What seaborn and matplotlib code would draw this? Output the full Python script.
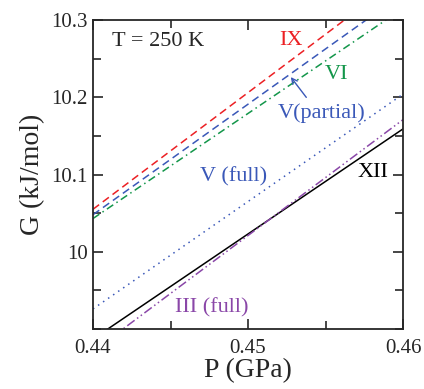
import matplotlib
matplotlib.use("Agg")
import matplotlib.pyplot as plt
import seaborn as sns
import pandas as pd
from matplotlib.ticker import MultipleLocator

sns.set_style("ticks")
plt.rcParams['font.family'] = ['Liberation Serif', 'DejaVu Serif']
plt.rcParams['mathtext.fontset'] = 'stix'

# Data: endpoints of each G(P) line (P in GPa, G in kJ/mol)
pressure = [0.44, 0.46]
g_ix = [10.055, 10.357]
g_v_partial = [10.048, 10.334]
g_vi = [10.043, 10.315]
g_v_full = [9.926, 10.204]
g_xii = [9.887, 10.159]
g_iii_full = [9.871, 10.171]

series = {
    "IX": g_ix,
    "V(partial)": g_v_partial,
    "VI": g_vi,
    "V (full)": g_v_full,
    "XII": g_xii,
    "III (full)": g_iii_full,
}
rows = []
for name, vals in series.items():
    for p, g in zip(pressure, vals):
        rows.append({"P": p, "G": g, "phase": name})
df = pd.DataFrame(rows)

colors = {
    "IX": "#ec2024",
    "V(partial)": "#3a58b8",
    "VI": "#13964a",
    "V (full)": "#3a58b8",
    "XII": "#000000",
    "III (full)": "#8a47a8",
}
dashes = {
    "IX": (5, 3),
    "V(partial)": (5, 3),
    "VI": (5, 2.5, 1, 2.5),
    "V (full)": (1, 3),
    "XII": (),
    "III (full)": (6, 2, 1, 2, 1, 2),
}

fig = plt.figure(figsize=(4.24, 3.89), dpi=100)
ax = fig.add_axes([93 / 424, 1 - 329 / 389, 310 / 424, 309 / 389])

sns.lineplot(data=df, x="P", y="G", hue="phase", style="phase",
             palette=colors, dashes=dashes, linewidth=1.1, legend=False, ax=ax)

ax.set_xlim(0.44, 0.46)
ax.set_ylim(9.9, 10.3)
ax.xaxis.set_minor_locator(MultipleLocator(0.005))
ax.yaxis.set_minor_locator(MultipleLocator(0.05))
ax.set_xticks([0.44, 0.45, 0.46])
ax.set_xticklabels(["0.44", "0.45", "0.46"])
ax.set_yticks([10.0, 10.1, 10.2, 10.3])
ax.set_yticklabels(["10", "10.1", "10.2", "10.3"])
ax.tick_params(which="both", direction="in", top=True, right=True,
               labelsize=15, width=1.2)
ax.tick_params(axis="x", which="major", pad=7)
ax.tick_params(axis="y", which="major", pad=4)
ax.tick_params(which="major", length=7)
ax.tick_params(which="minor", length=6)
for s in ax.spines.values():
    s.set_linewidth(1.3)

ax.set_xlabel("P (GPa)", fontsize=20, labelpad=0)
ax.set_ylabel("G (kJ/mol)", fontsize=20, labelpad=4)

fs = 16
ax.text(0.061, 0.929, "T = 250 K", transform=ax.transAxes, fontsize=fs,
        ha="left", va="center")
ax.text(0.45277, 10.274, "IX", color=colors["IX"], fontsize=fs, ha="center", va="center")
ax.text(0.45574, 10.229, "VI", color=colors["VI"], fontsize=fs, ha="center", va="center")
ax.text(0.45474, 10.18, "V(partial)", color=colors["V(partial)"], fontsize=fs,
        ha="center", va="center")
ax.annotate("", xy=(0.45265, 10.229), xytext=(0.45387, 10.197),
            arrowprops=dict(arrowstyle="->", color=colors["V(partial)"], lw=1.0))
ax.text(0.44906, 10.097, "V (full)", color=colors["V (full)"], fontsize=fs,
        ha="center", va="center")
ax.text(0.45806, 10.103, "XII", color="black", fontsize=fs, ha="center", va="center")
ax.text(0.44768, 9.928, "III (full)", color=colors["III (full)"], fontsize=fs,
        ha="center", va="center")

fig.savefig("out.png", dpi=100)
